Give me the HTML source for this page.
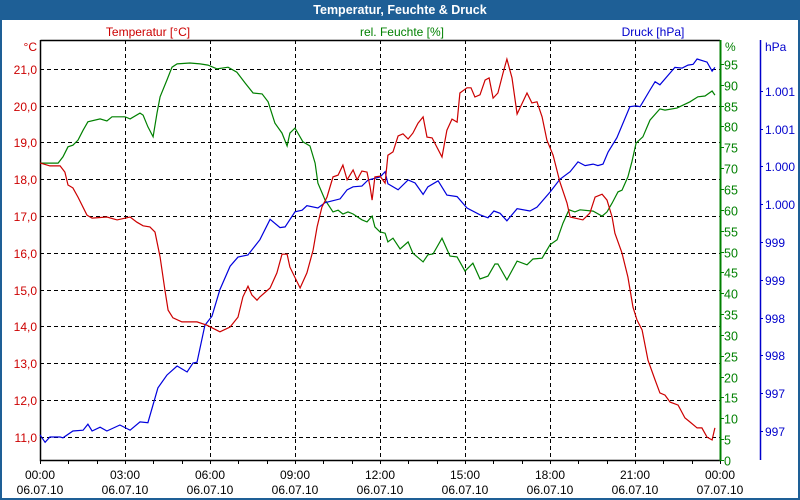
<!DOCTYPE html>
<html><head><meta charset="utf-8"><style>
html,body{margin:0;padding:0;background:#fff}
svg{display:block;font-family:"Liberation Sans",sans-serif}
</style></head><body>
<svg id="chart" width="800" height="500" xmlns="http://www.w3.org/2000/svg">
<rect x="0" y="0" width="800" height="500" fill="#1e5f96"/>
<rect x="2" y="20" width="796" height="478" fill="#ffffff"/>
<text x="400" y="14" text-anchor="middle" fill="#fff" font-size="12.5" font-weight="bold">Temperatur, Feuchte &amp; Druck</text>
<text x="148" y="36" text-anchor="middle" fill="#cc0000" font-size="12">Temperatur [°C]</text>
<text x="402" y="36" text-anchor="middle" fill="#008000" font-size="12">rel. Feuchte [%]</text>
<text x="653" y="36" text-anchor="middle" fill="#0000cc" font-size="12">Druck [hPa]</text>
<text x="37" y="51" text-anchor="end" fill="#cc0000" font-size="12">°C</text>
<text x="725" y="51" fill="#008000" font-size="12">%</text>
<text x="765" y="51" fill="#0000cc" font-size="12">hPa</text>
<g id="grid"></g>
<g id="axes"></g>
<g id="series"></g>
</svg>
<script>
const xLabelsTime = ["00:00","03:00","06:00","09:00","12:00","15:00","18:00","21:00","00:00"];
const xLabelsDate = ["06.07.10","06.07.10","06.07.10","06.07.10","06.07.10","06.07.10","06.07.10","06.07.10","07.07.10"];
const tempTicks = [21,20,19,18,17,16,15,14,13,12,11];
const humTicks = [0,5,10,15,20,25,30,35,40,45,50,55,60,65,70,75,80,85,90,95];
const presTicks = [1001.5,1001,1000.5,1000,999.5,999,998.5,998,997.5,997];
const presTickLabels = ["1.001","1.001","1.000","1.000","999","999","998","998","997","997"];

const tempTime = [0,0.35,0.71,0.88,0.99,1.16,1.34,1.66,1.84,2.36,2.72,3.18,3.42,3.64,3.88,4.06,4.24,4.41,4.52,4.69,5.01,5.54,5.89,6.35,6.71,6.99,7.16,7.34,7.48,7.66,7.76,8.12,8.36,8.54,8.72,8.82,9.18,9.42,9.64,9.78,9.95,10.13,10.34,10.52,10.69,10.84,11.05,11.19,11.36,11.54,11.65,11.72,11.82,12.0,12.18,12.28,12.46,12.64,12.81,12.99,13.16,13.34,13.52,13.66,13.84,14.19,14.36,14.54,14.72,14.82,15.07,15.21,15.35,15.53,15.71,15.85,15.99,16.16,16.34,16.48,16.66,16.84,17.19,17.36,17.54,17.72,17.89,18.11,18.35,18.6,18.71,19.16,19.41,19.59,19.84,20.01,20.19,20.29,20.54,20.75,20.93,21.07,21.25,21.46,21.71,21.88,22.06,22.24,22.52,22.76,22.94,23.19,23.36,23.54,23.72,23.82];
const tempValues = [18.44,18.36,18.36,18.19,17.84,17.76,17.51,17.02,16.94,16.97,16.89,16.97,16.83,16.73,16.7,16.56,15.88,14.99,14.44,14.23,14.12,14.12,14.03,13.85,13.98,14.25,14.8,15.09,14.85,14.71,14.8,15.04,15.45,15.96,15.96,15.61,15.04,15.45,16.07,16.7,17.24,17.51,18.06,18.11,18.38,17.98,18.25,17.98,18.22,18.19,17.79,17.43,18.06,18.08,17.89,18.65,18.74,19.17,19.23,19.09,19.25,19.52,19.69,19.14,19.12,18.6,19.33,19.63,19.55,20.34,20.48,20.48,20.23,20.29,20.69,20.75,20.2,20.34,20.88,21.26,20.75,19.77,20.34,20.07,20.1,19.69,19.06,18.65,17.92,17.35,16.97,16.89,17.08,17.51,17.59,17.43,16.97,16.53,15.99,15.34,14.52,14.17,13.9,13.08,12.54,12.19,12.13,11.94,11.86,11.51,11.4,11.24,11.24,10.99,10.91,11.24];

const humTime = [0,0.64,0.81,0.99,1.16,1.34,1.52,1.69,2.12,2.36,2.54,3.0,3.18,3.53,3.64,3.81,3.99,4.13,4.24,4.48,4.66,4.84,5.29,5.65,5.93,6.25,6.64,6.95,7.24,7.52,7.84,8.05,8.29,8.54,8.72,8.82,9.0,9.28,9.53,9.71,9.81,10.06,10.34,10.52,10.69,10.87,11.05,11.36,11.54,11.72,11.82,12.0,12.18,12.28,12.46,12.71,12.99,13.16,13.52,13.69,13.87,14.19,14.47,14.72,15.0,15.28,15.53,15.81,16.06,16.16,16.48,16.84,17.19,17.4,17.72,18.0,18.25,18.46,18.67,18.88,19.06,19.52,19.84,20.01,20.19,20.4,20.54,20.75,20.89,21.04,21.28,21.53,21.88,22.06,22.48,22.94,23.22,23.47,23.72,23.82];
const humValues = [71.2,71.2,72.7,75.1,75.5,76.7,79.1,81.1,81.8,81.3,82.3,82.3,81.8,83.2,82.7,79.9,77.5,83.2,87.1,91.1,94.2,95.0,95.2,95.0,94.7,93.8,94.2,93.0,90.4,88.0,87.8,85.9,80.8,78.4,75.3,78.4,79.6,76.3,75.3,71.2,66.4,62.4,59.5,59.9,59.0,59.5,59.0,57.6,57.1,58.5,55.9,54.7,54.4,52.3,53.2,50.6,52.3,49.6,47.5,49.2,49.4,53.2,48.9,48.7,45.3,47.2,43.4,44.1,47.0,47.0,43.2,47.7,46.8,48.2,48.4,51.6,52.8,56.8,60.0,59.5,60.0,59.7,58.5,59.5,61.6,64.3,64.7,67.9,71.5,76.0,77.5,81.5,84.2,83.9,84.4,85.9,87.1,87.3,88.5,87.5];

const presTime = [0,0.18,0.35,0.71,0.81,1.16,1.52,1.69,1.84,2.12,2.36,2.82,3.18,3.53,3.81,4.16,4.48,4.84,5.19,5.4,5.54,5.82,6.07,6.35,6.71,6.99,7.34,7.76,8.12,8.47,8.65,9.0,9.25,9.42,9.81,10.06,10.59,10.84,11.05,11.36,11.58,12.0,12.18,12.28,12.64,12.99,13.24,13.52,13.69,14.05,14.36,14.72,15.07,15.53,15.81,16.02,16.24,16.48,16.84,17.29,17.54,18.0,18.35,18.71,18.99,19.24,19.52,19.69,19.87,20.05,20.36,20.82,21.04,21.18,21.53,21.71,21.88,22.41,22.66,22.87,23.05,23.19,23.54,23.72,23.82];
const presValues = [996.95,996.85,996.92,996.92,996.91,997.0,997.01,997.09,997.0,997.05,997.0,997.08,997.01,997.12,997.11,997.57,997.74,997.86,997.78,997.9,997.91,998.4,998.52,998.87,999.18,999.3,999.33,999.53,999.8,999.69,999.7,999.9,999.92,999.98,999.95,1000.02,1000.07,1000.19,1000.23,1000.24,1000.32,1000.36,1000.43,1000.27,1000.19,1000.32,1000.28,1000.13,1000.23,1000.31,1000.12,1000.1,999.95,999.86,999.82,999.91,999.88,999.78,999.94,999.91,999.96,1000.16,1000.33,1000.43,1000.56,1000.51,1000.53,1000.51,1000.53,1000.69,1000.88,1001.29,1001.3,1001.29,1001.51,1001.62,1001.58,1001.81,1001.8,1001.84,1001.85,1001.92,1001.88,1001.76,1001.81];

const L=40,R=720,T=40,B=460;
const NS="http://www.w3.org/2000/svg";
function xS(t){return L+t*(R-L)/24;}
function yT(v){return 68.7+(21-v)*36.8;}
function yH(v){return 460-v*4.17;}
function yP(v){return 431-(v-997)*75.6;}
function mk(tag,attrs,parent,text){const e=document.createElementNS(NS,tag);for(const k in attrs)e.setAttribute(k,attrs[k]);if(text!==undefined)e.textContent=text;parent.appendChild(e);return e;}
const grid=document.getElementById('grid'),axes=document.getElementById('axes'),series=document.getElementById('series');

tempTicks.forEach(v=>{const y=Math.round(yT(v))+0.5;
 const g=mk('line',{x1:L,x2:R,y1:y,y2:y,stroke:'#000','stroke-dasharray':'4,3','stroke-width':1},grid);
 
 
 const t=mk('text',{x:37,y:y+4.5,'text-anchor':'end',fill:'#cc0000','font-size':12},axes,v.toFixed(1).replace('.',','));
 
 
});
for(let i=1;i<8;i++){const x=Math.round(xS(i*3))+0.5;
 const g=mk('line',{x1:x,x2:x,y1:T,y2:B,stroke:'#000','stroke-dasharray':'4,3','stroke-width':1},grid);
 
 
}
xLabelsTime.forEach((s,i)=>{const x=xS(i*3);
 const a=mk('text',{x:x,y:479,'text-anchor':'middle',fill:'#000','font-size':12},axes,s);
 
 
 const b=mk('text',{x:x,y:494,'text-anchor':'middle',fill:'#000','font-size':12},axes,xLabelsDate[i]);
 
 
});
for(let h=0;h<=24;h++){const x=Math.round(xS(h))+0.5;
 const tk=mk('line',{x1:x,x2:x,y1:B,y2:B+4,stroke:'#000'},axes);
 
 
}
const frame=mk('path',{d:`M${L+0.5},${T+0.5}H${R}M${L+0.5},${T}V${B+0.5}H${R}`,stroke:'#000',fill:'none','stroke-width':1.5},axes);


const ga=mk('line',{x1:R+0.5,x2:R+0.5,y1:T,y2:B+1,stroke:'#008000','stroke-width':2},axes);


humTicks.forEach(v=>{const y=Math.round(yH(v))+0.5;
 const tk=mk('line',{x1:R,x2:R+4,y1:y,y2:y,stroke:'#008000'},axes);
 
 
 const t=mk('text',{x:724,y:y+5,fill:'#008000','font-size':12.5},axes,String(v));
 
 
});
const pa=mk('line',{x1:760.5,x2:760.5,y1:T,y2:B,stroke:'#0000cc','stroke-width':1.5},axes);


presTicks.forEach((v,i)=>{const y=Math.round(yP(v))+0.5;
 const tk=mk('line',{x1:760,x2:763,y1:y,y2:y,stroke:'#0000cc'},axes);
 
 
 const t=mk('text',{x:765,y:y+4.5,fill:'#0000cc','font-size':12},axes,presTickLabels[i]);
 
 
});
function line(ts,vs,yf,color,name){
 const d=ts.map((t,i)=>(i?'L':'M')+xS(t).toFixed(1)+','+yf(vs[i]).toFixed(1)).join('');
 const p=mk('path',{d:d,fill:'none',stroke:color,'stroke-width':1.2},series);
 
 
}
line(humTime,humValues,yH,'#008000','humidity-line');
line(presTime,presValues,yP,'#0000dd','pressure-line');
line(tempTime,tempValues,yT,'#cc0000','temperature-line');
</script>
</body></html>
